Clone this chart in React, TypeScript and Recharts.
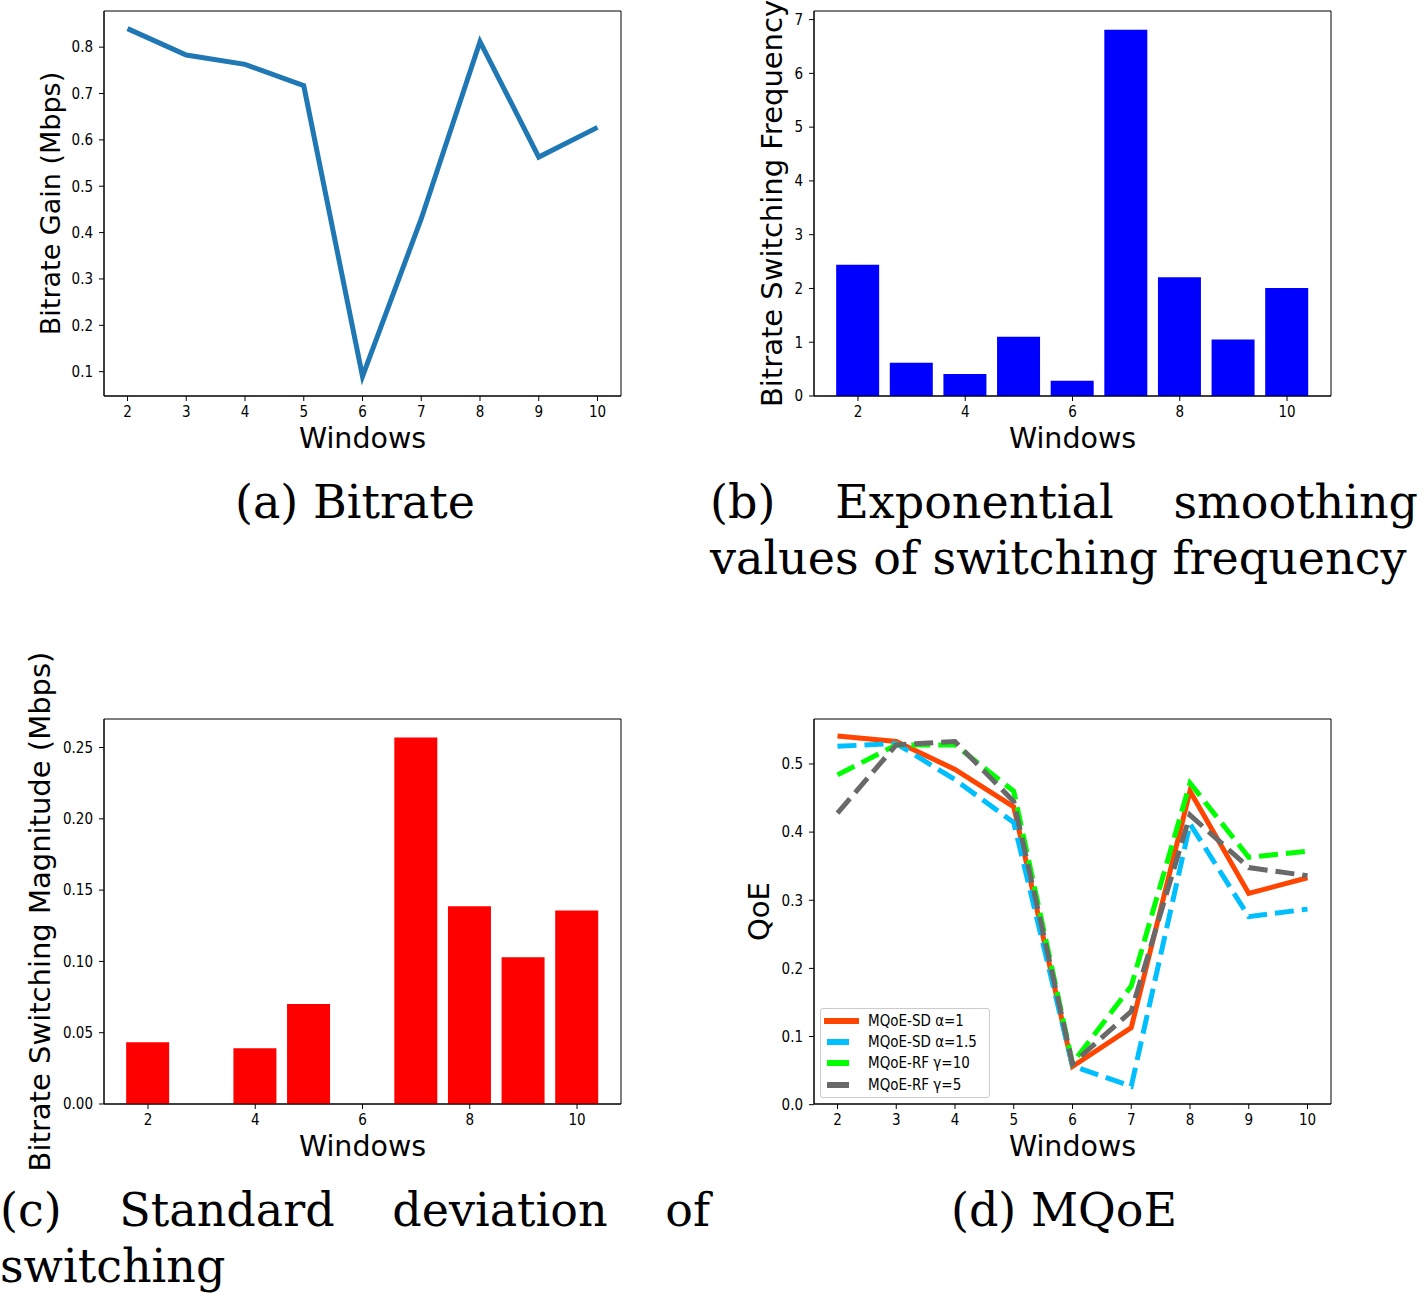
import React from "react";
import { LineChart, Line, BarChart, Bar, XAxis, YAxis, Legend, ReferenceArea } from "recharts";

const windows = [2, 3, 4, 5, 6, 7, 8, 9, 10];
const evenTicks = [2, 4, 6, 8, 10];

const bitrateGain = [0.84, 0.783, 0.763, 0.717, 0.09, 0.43, 0.812, 0.563, 0.627];
const switchFreq = [2.44, 0.62, 0.41, 1.1, 0.285, 6.81, 2.21, 1.05, 2.01];
const switchMag = [0.0433, 0, 0.0391, 0.0701, 0, 0.2571, 0.1387, 0.103, 0.1357];

const qoeSd1 = [0.541, 0.533, 0.492, 0.437, 0.056, 0.113, 0.46, 0.31, 0.333];
const qoeSd15 = [0.526, 0.53, 0.477, 0.414, 0.057, 0.027, 0.412, 0.276, 0.287];
const qoeRf10 = [0.484, 0.528, 0.528, 0.46, 0.061, 0.174, 0.472, 0.363, 0.372];
const qoeRf5 = [0.428, 0.528, 0.533, 0.445, 0.06, 0.137, 0.425, 0.348, 0.336];

const gainTicks = [0.1, 0.2, 0.3, 0.4, 0.5, 0.6, 0.7, 0.8];
const freqTicks = [0, 1, 2, 3, 4, 5, 6, 7];
const magTicks = [0, 0.05, 0.1, 0.15, 0.2, 0.25];
const qoeTicks = [0, 0.1, 0.2, 0.3, 0.4, 0.5];

const qoeSeries = [
  { key: "sd1", name: "MQoE-SD α=1", color: "#ff4500", dashed: false, values: qoeSd1 },
  { key: "sd15", name: "MQoE-SD α=1.5", color: "#00bfff", dashed: true, values: qoeSd15 },
  { key: "rf10", name: "MQoE-RF γ=10", color: "#00ff00", dashed: true, values: qoeRf10 },
  { key: "rf5", name: "MQoE-RF γ=5", color: "#696969", dashed: true, values: qoeRf5 },
];

const gainData = windows.map((w, i) => ({ w, v: bitrateGain[i] }));
const freqData = windows.map((w, i) => ({ w, v: switchFreq[i] }));
const magData = windows.map((w, i) => ({ w, v: switchMag[i] }));
const qoeData = windows.map((w, i) => {
  const row: Record<string, number> = { w };
  qoeSeries.forEach((s) => (row[s.key] = s.values[i]));
  return row;
});

const SANS = '"DejaVu Sans", sans-serif';
const COND = '"DejaVu Sans Condensed", "DejaVu Sans", sans-serif';
const SERIF = '"DejaVu Serif", serif';

const W = 700;
const H = 470;
const MARGIN = { top: 11, right: 79, bottom: 10, left: 0 };
const tickStyle = { fill: "#000", fontSize: 15, fontFamily: COND };
const labelStyle = { fill: "#000", fontSize: 28.5, fontFamily: SANS };
const axisLine = { stroke: "#000", strokeWidth: 1 };
const tickLine = { stroke: "#000", strokeWidth: 1 };

const xLabel = { value: "Windows", position: "center" as const, dy: 10, style: labelStyle };
const yLabel = (value: string, dx: number, size = 28.5) => ({
  value,
  angle: -90,
  position: "center" as const,
  dx,
  style: { ...labelStyle, fontSize: size },
});

const lineDomain: [number, number] = [1.6, 10.4];
const barDomain: [number, number] = [1.18, 10.82];
const gainDomain: [number, number] = [0.0475, 0.878];
const freqDomain: [number, number] = [0, 7.16];
const magDomain: [number, number] = [0, 0.27];
const qoeDomain: [number, number] = [0.001, 0.566];

// box around the plot area, like the matplotlib spines
const frame = (xd: [number, number], yd: [number, number]) => (
  <ReferenceArea
    x1={xd[0]}
    x2={xd[1]}
    y1={yd[0]}
    y2={yd[1]}
    fill="none"
    fillOpacity={0}
    stroke="#000"
    strokeWidth={1}
    strokeOpacity={1}
    ifOverflow="visible"
  />
);

const QoeLegend = () => (
  <div
    style={{
      width: 170,
      boxSizing: "border-box",
      border: "1px solid #cccccc",
      borderRadius: 3,
      background: "rgba(255,255,255,0.8)",
      padding: "1px 4px 2px 3px",
      fontFamily: COND,
      fontSize: 15,
      color: "#000",
    }}
  >
    {qoeSeries.map((s) => (
      <div key={s.key} style={{ display: "flex", alignItems: "center", height: 21.3 }}>
        <svg width={35} height={8} style={{ flex: "none" }}>
          <line
            x1={0}
            x2={35}
            y1={4}
            y2={4}
            stroke={s.color}
            strokeWidth={6}
            strokeDasharray={s.dashed ? "22 40" : undefined}
            strokeDashoffset={s.dashed ? -3 : 0}
          />
        </svg>
        <span style={{ marginLeft: 9, whiteSpace: "nowrap" }}>{s.name}</span>
      </div>
    ))}
  </div>
);

const caption: React.CSSProperties = {
  position: "absolute",
  fontFamily: SERIF,
  fontSize: 46,
  lineHeight: "56px",
  color: "#000",
};

export default function App() {
  return (
    <div
      style={{
        position: "absolute",
        left: 0,
        top: 0,
        width: 1418,
        height: 1293,
        overflow: "hidden",
        background: "#fff",
      }}
    >
      {/* (a) bitrate gain */}
      <div style={{ position: "absolute", left: 0, top: 0 }}>
        <LineChart width={W} height={H} data={gainData} margin={MARGIN}>
          <XAxis
            dataKey="w"
            type="number"
            domain={lineDomain}
            ticks={windows}
            allowDataOverflow
            height={64}
            tick={tickStyle}
            tickSize={5}
            tickMargin={5}
            axisLine={axisLine}
            tickLine={tickLine}
            label={xLabel}
          />
          <YAxis
            type="number"
            domain={gainDomain}
            ticks={gainTicks}
            allowDataOverflow
            width={104}
            tick={tickStyle}
            tickSize={5}
            tickMargin={6}
            tickFormatter={(v: number) => v.toFixed(1)}
            axisLine={axisLine}
            tickLine={tickLine}
            label={yLabel("Bitrate Gain (Mbps)", -2, 27)}
          />
          {frame(lineDomain, gainDomain)}
          <Line dataKey="v" stroke="#1f77b4" strokeWidth={5} dot={false} isAnimationActive={false} />
        </LineChart>
      </div>

      {/* (b) switching frequency */}
      <div style={{ position: "absolute", left: 710, top: 0 }}>
        <BarChart width={W} height={H} data={freqData} margin={MARGIN}>
          <XAxis
            dataKey="w"
            type="number"
            domain={barDomain}
            ticks={evenTicks}
            allowDataOverflow
            height={64}
            tick={tickStyle}
            tickSize={5}
            tickMargin={5}
            axisLine={axisLine}
            tickLine={tickLine}
            label={xLabel}
          />
          <YAxis
            type="number"
            domain={freqDomain}
            ticks={freqTicks}
            allowDataOverflow
            width={104}
            tick={tickStyle}
            tickSize={5}
            tickMargin={6}
            axisLine={axisLine}
            tickLine={tickLine}
            label={yLabel("Bitrate Switching Frequency", 10, 29)}
          />
          <Bar dataKey="v" fill="#0000ff" barSize={43} isAnimationActive={false} />
          {frame(barDomain, freqDomain)}
        </BarChart>
      </div>

      {/* (c) switching magnitude */}
      <div style={{ position: "absolute", left: 0, top: 640 }}>
        <BarChart width={W} height={H + 68} data={magData} margin={{ ...MARGIN, top: 79 }}>
          <XAxis
            dataKey="w"
            type="number"
            domain={barDomain}
            ticks={evenTicks}
            allowDataOverflow
            height={64}
            tick={tickStyle}
            tickSize={5}
            tickMargin={5}
            axisLine={axisLine}
            tickLine={tickLine}
            label={xLabel}
          />
          <YAxis
            type="number"
            domain={magDomain}
            ticks={magTicks}
            allowDataOverflow
            width={104}
            tick={tickStyle}
            tickSize={5}
            tickMargin={6}
            tickFormatter={(v: number) => v.toFixed(2)}
            axisLine={axisLine}
            tickLine={tickLine}
            label={yLabel("Bitrate Switching Magnitude (Mbps)", -12.5, 29)}
          />
          <Bar dataKey="v" fill="#ff0000" barSize={43} isAnimationActive={false} />
          {frame(barDomain, magDomain)}
        </BarChart>
      </div>

      {/* (d) MQoE */}
      <div style={{ position: "absolute", left: 710, top: 708 }}>
        <LineChart width={W} height={H} data={qoeData} margin={MARGIN}>
          <XAxis
            dataKey="w"
            type="number"
            domain={lineDomain}
            ticks={windows}
            allowDataOverflow
            height={64}
            tick={tickStyle}
            tickSize={5}
            tickMargin={5}
            axisLine={axisLine}
            tickLine={tickLine}
            label={xLabel}
          />
          <YAxis
            type="number"
            domain={qoeDomain}
            ticks={qoeTicks}
            allowDataOverflow
            width={104}
            tick={tickStyle}
            tickSize={5}
            tickMargin={6}
            tickFormatter={(v: number) => v.toFixed(1)}
            axisLine={axisLine}
            tickLine={tickLine}
            label={yLabel("QoE", -3, 29)}
          />
          {frame(lineDomain, qoeDomain)}
          {qoeSeries.map((s) => (
            <Line
              key={s.key}
              dataKey={s.key}
              name={s.name}
              stroke={s.color}
              strokeWidth={5}
              strokeDasharray={s.dashed ? "19 8" : undefined}
              dot={false}
              isAnimationActive={false}
            />
          ))}
          <Legend
            layout="vertical"
            align="center"
            verticalAlign="middle"
            content={() => <QoeLegend />}
            wrapperStyle={{ left: 110, top: 300, width: "auto" }}
          />
        </LineChart>
      </div>

      {/* captions */}
      <div style={{ ...caption, left: 0, top: 474, width: 710, textAlign: "center" }}>(a) Bitrate</div>
      <div style={{ ...caption, left: 710, top: 474, width: 708, textAlign: "justify" }}>
        (b) Exponential smoothing values of switching frequency
      </div>
      <div style={{ ...caption, left: 0, top: 1182, width: 710, textAlign: "justify" }}>
        (c) Standard deviation of switching
      </div>
      <div style={{ ...caption, left: 710, top: 1182, width: 708, textAlign: "center" }}>(d) MQoE</div>
    </div>
  );
}
